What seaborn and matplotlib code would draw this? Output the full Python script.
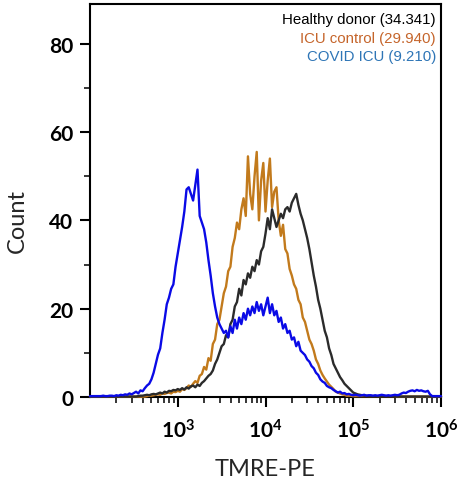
"""TMRE-PE histogram overlay: healthy donor vs ICU control vs COVID ICU."""

import matplotlib

matplotlib.use("Agg")
import matplotlib.pyplot as plt
import numpy as np
import pandas as pd
import seaborn as sns
from matplotlib.ticker import FixedLocator, LogLocator, MultipleLocator, NullFormatter

# histogram channels: 161 log-spaced bins from 10^2 to 10^6
CHANNELS = np.logspace(2, 6, 161)

HEALTHY = [
    0.1, 0.1, 0.1, 0.1, 0.1, 0.1, 0.1, 0.1, 0.1, 0.1,
    0.1, 0.1, 0.1, 0.1, 0.1, 0.1, 0.1, 0.1, 0.1, 0.1,
    0.1, 0.1, 0.2, 0.3, 0.3, 0.4, 0.5, 0.4, 0.6, 0.7,
    0.6, 0.8, 1.0, 0.8, 1.2, 1.0, 1.4, 1.3, 1.6, 1.5,
    1.8, 1.6, 2.0, 1.7, 2.2, 1.9, 2.4, 2.6, 2.2, 2.8,
    2.5, 3.2, 3.6, 4.2, 4.8, 5.2, 6.0, 7.5, 8.5, 10.0,
    11.5, 12.0, 14.0, 13.5, 16.5, 17.5, 20.5, 21.5, 24.5, 23.0,
    26.5, 25.5, 28.0, 27.0, 29.5, 28.5, 31.0, 30.0, 33.0, 34.0,
    37.0, 40.5, 38.0, 42.5, 40.5, 38.5, 40.0, 41.5, 40.5, 42.5,
    43.0, 42.0, 44.0, 45.0, 46.0, 43.5, 41.5, 40.0, 38.0, 36.0,
    33.5, 30.5, 27.5, 25.0, 22.0, 20.0, 17.5, 15.0, 13.5, 11.0,
    9.5, 7.5, 6.5, 5.5, 4.5, 3.8, 3.0, 2.5, 2.0, 1.5,
    1.0, 0.8, 0.6, 0.5, 0.4, 0.3, 0.3, 0.2, 0.2, 0.2,
    0.2, 0.2, 0.2, 0.2, 0.2, 0.2, 0.2, 0.2, 0.2, 0.2,
    0.1, 0.1, 0.1, 0.1, 0.1, 0.1, 0.1, 0.1, 0.1, 0.1,
    0.1, 0.1, 0.1, 0.1, 0.1, 0.1, 0.1, 0.1, 0.1, 0.1,
    0.1,
]

ICU_CONTROL = [
    0.1, 0.1, 0.1, 0.1, 0.1, 0.1, 0.1, 0.1, 0.1, 0.1,
    0.1, 0.1, 0.1, 0.1, 0.1, 0.1, 0.1, 0.1, 0.1, 0.1,
    0.1, 0.1, 0.1, 0.1, 0.1, 0.1, 0.2, 0.3, 0.3, 0.4,
    0.5, 0.6, 0.5, 0.8, 0.7, 0.9, 1.0, 0.8, 1.2, 1.1,
    1.4, 1.2, 1.8, 1.6, 2.0, 2.6, 2.3, 3.0, 3.6, 3.2,
    4.8, 5.2, 6.8, 6.2, 8.8, 8.2, 12.0, 13.0, 16.5, 17.5,
    20.5, 23.5, 25.0, 28.5, 29.5, 34.0, 36.0, 39.5, 38.0, 42.5,
    45.0, 41.0, 54.5, 46.0, 42.5, 50.0, 55.5, 40.0, 49.0, 53.0,
    42.0, 49.0, 54.0, 43.0, 46.5, 47.5, 40.0, 36.5, 39.0, 33.5,
    32.5, 29.0, 27.5, 25.5, 24.5, 22.0, 21.0, 18.0, 17.0, 15.0,
    13.0, 12.0, 10.5, 8.5, 7.5, 6.0, 5.0, 4.2, 3.5, 2.8,
    2.3, 1.8, 1.2, 1.0, 0.8, 0.6, 0.5, 0.3, 0.3, 0.3,
    0.2, 0.2, 0.2, 0.2, 0.2, 0.2, 0.2, 0.2, 0.2, 0.2,
    0.2, 0.2, 0.2, 0.2, 0.2, 0.2, 0.2, 0.2, 0.2, 0.2,
    0.1, 0.1, 0.1, 0.1, 0.1, 0.1, 0.1, 0.1, 0.1, 0.1,
    0.1, 0.1, 0.1, 0.1, 0.1, 0.1, 0.1, 0.1, 0.1, 0.1,
    0.1,
]

COVID_ICU = [
    0.2, 0.2, 0.2, 0.2, 0.2, 0.2, 0.3, 0.2, 0.2, 0.3,
    0.3, 0.2, 0.4, 0.3, 0.5, 0.4, 0.6, 0.5, 0.8, 0.6,
    0.9, 1.2, 0.8, 1.5, 1.3, 2.0, 2.6, 3.0, 4.0, 5.5,
    7.5, 9.6, 11.0, 14.5, 17.5, 21.0, 22.5, 24.5, 25.5, 29.5,
    32.5, 35.5, 38.5, 42.0, 47.0, 47.5, 46.0, 44.5, 48.0, 51.5,
    41.0, 39.5, 38.0, 35.0, 31.0, 27.5, 23.5, 20.5, 18.0, 16.5,
    15.5, 14.5, 15.0, 13.5, 16.0, 14.5, 17.5, 15.5, 18.0, 16.5,
    19.0, 17.5, 20.0, 18.5, 20.5, 19.0, 21.5, 19.5, 21.0, 18.5,
    20.5, 22.5, 19.0, 21.0, 18.5, 19.5, 17.0, 18.0, 15.5, 16.5,
    14.5, 15.0, 13.0, 13.5, 11.5, 12.5, 10.5, 10.0, 9.5, 8.5,
    8.0, 7.0, 6.5, 5.5, 5.0, 4.0, 3.5, 3.2, 2.5, 2.2,
    2.0, 1.6, 1.3, 1.0, 1.2, 0.8, 0.9, 0.6, 0.7, 0.5,
    0.4, 0.5, 0.4, 0.3, 0.4, 0.5, 0.3, 0.4, 0.4, 0.3,
    0.4, 0.3, 0.4, 0.5, 0.4, 0.3, 0.4, 0.3, 0.4, 0.5,
    0.4, 0.5, 0.8, 1.0, 0.9, 1.2, 1.4, 1.5, 1.3, 1.6,
    1.4, 1.5, 1.3, 1.2, 1.4, 0.6, 0.2, 0.2, 0.2, 0.2,
    0.2,
]

# draw order: orange first, black over it, blue on top
SERIES_ORDER = ["ICU control", "Healthy donor", "COVID ICU"]
LINE_COLORS = {"Healthy donor": "#2b2b2b", "ICU control": "#c27a1c", "COVID ICU": "#0a0ae6"}

LEGEND_LABELS = ["Healthy donor (34.341)", "ICU control (29.940)", "COVID ICU (9.210)"]
LEGEND_COLORS = ["#000000", "#c5652b", "#2e75b6"]

X_TICKS = [1e3, 1e4, 1e5, 1e6]
X_TICK_LABELS = [r"$\mathbf{10^{3}}$", r"$\mathbf{10^{4}}$", r"$\mathbf{10^{5}}$", r"$\mathbf{10^{6}}$"]

df = pd.concat(
    [
        pd.DataFrame({"channel": CHANNELS, "count": HEALTHY, "series": "Healthy donor"}),
        pd.DataFrame({"channel": CHANNELS, "count": ICU_CONTROL, "series": "ICU control"}),
        pd.DataFrame({"channel": CHANNELS, "count": COVID_ICU, "series": "COVID ICU"}),
    ],
    ignore_index=True,
)

sns.set_style("ticks")
plt.rcParams["font.family"] = ["Lato", "DejaVu Sans"]
plt.rcParams["mathtext.fontset"] = "custom"
plt.rcParams["mathtext.bf"] = "Lato:bold"
plt.rcParams["mathtext.rm"] = "Lato"

fig = plt.figure(figsize=(4.59, 4.81), dpi=100)
ax = fig.add_axes([90 / 459, 1 - 398 / 481, 351 / 459, 393 / 481])

sns.lineplot(
    data=df, x="channel", y="count", hue="series", hue_order=SERIES_ORDER,
    palette=LINE_COLORS, estimator=None, sort=False, linewidth=1.7, legend=False, ax=ax,
)
for line in ax.lines:
    line.set_zorder(3)
    line.set_clip_on(False)

ax.set_xscale("log")
ax.set_xlim(1e2, 1e6)
ax.set_ylim(0, 89)

ax.xaxis.set_major_locator(FixedLocator(X_TICKS))
ax.set_xticklabels(X_TICK_LABELS)
ax.xaxis.set_minor_locator(LogLocator(base=10, subs=np.arange(2, 10)))
ax.xaxis.set_minor_formatter(NullFormatter())
ax.yaxis.set_major_locator(MultipleLocator(20))
ax.yaxis.set_minor_locator(MultipleLocator(10))

ax.tick_params(axis="both", which="major", direction="out", length=7, width=1.5, labelsize=15, colors="black")
ax.tick_params(axis="both", which="minor", direction="out", length=4, width=1.3)
ax.tick_params(axis="x", which="major", pad=8)
ax.tick_params(axis="y", which="major", pad=5)
for lbl in ax.get_yticklabels():
    lbl.set_fontweight("bold")

for side in ["left", "bottom", "top", "right"]:
    ax.spines[side].set_linewidth(1.5)
    ax.spines[side].set_color("black")

ax.set_xlabel("TMRE-PE", fontsize=17)
ax.set_ylabel("Count", fontsize=17)
ax.xaxis.set_label_coords(0.5, -0.155)
ax.yaxis.set_label_coords(-0.178, 0.45)

for label, color, ypos in zip(LEGEND_LABELS, LEGEND_COLORS, [0.962, 0.913, 0.868]):
    ax.text(0.986, ypos, label, color=color, ha="right", va="center",
            fontsize=10.8, family=["Liberation Sans", "DejaVu Sans"], transform=ax.transAxes)

fig.savefig("out.png", dpi=100)
plt.close(fig)
